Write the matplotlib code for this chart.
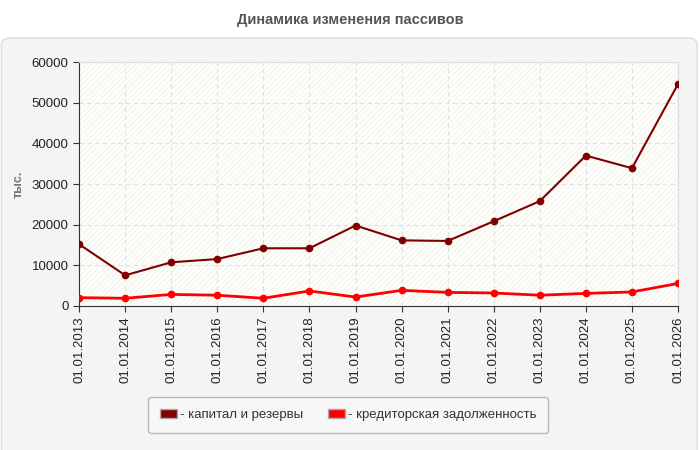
import matplotlib.pyplot as plt
from matplotlib.patches import FancyBboxPatch, Patch

dates = ['01.01.2013', '01.01.2014', '01.01.2015', '01.01.2016', '01.01.2017',
         '01.01.2018', '01.01.2019', '01.01.2020', '01.01.2021', '01.01.2022',
         '01.01.2023', '01.01.2024', '01.01.2025', '01.01.2026']
kapital = [15200, 7550, 10750, 11550, 14200, 14200, 19800, 16150, 16000,
           20850, 25800, 37000, 33900, 54600]
kredit = [2050, 1900, 2850, 2650, 1900, 3700, 2200, 3850, 3350, 3200,
          2650, 3100, 3450, 5550]

plt.rcParams['font.family'] = ['Liberation Sans', 'DejaVu Sans']

fig = plt.figure(figsize=(7, 4.5), dpi=100)
fig.patch.set_facecolor('white')

# grey rounded panel behind the chart
panel = FancyBboxPatch((0.002, -0.05), 0.994, 0.966,
                       boxstyle='round,pad=0,rounding_size=0.015',
                       transform=fig.transFigure, facecolor='#f4f4f4',
                       edgecolor='#dddddd', linewidth=1, zorder=-10)
fig.patches.append(panel)

fig.text(0.5, 0.955, 'Динамика изменения пассивов', ha='center', va='center',
         fontsize=10.5, fontweight='bold', color='#555555')

ax = fig.add_axes([0.113, 0.32, 0.8556, 0.542])
ax.set_facecolor('#fefefa')
ax.patch.set_hatch('//////')
ax.patch.set_edgecolor('#f4f4f0')
ax.patch.set_linewidth(0)

x = list(range(len(dates)))
ax.plot(x, kapital, color='#800000', lw=1.5, marker='o', ms=4.5, zorder=3)
ax.plot(x, kredit, color='#ff0000', lw=2, marker='o', ms=4.5, zorder=3)

ax.set_xlim(0, len(dates) - 1)
ax.set_ylim(0, 60000)
ax.set_yticks(range(0, 60001, 10000))
ax.set_xticks(x)
ax.set_xticklabels(dates, rotation=90, fontsize=9.5, color='#222222')
ax.tick_params(axis='y', labelsize=9.5, labelcolor='#222222', length=4, color='#333333')
ax.tick_params(axis='x', length=4, color='#333333')

ax.grid(True, linestyle=(0, (4, 3)), color='#e0e0e0', linewidth=0.8)
ax.set_axisbelow(True)

for s in ['top', 'right']:
    ax.spines[s].set_color('#dddddd')
for s in ['left', 'bottom']:
    ax.spines[s].set_color('#333333')

fig.text(0.026, 0.59, 'тыс.', rotation=90, ha='center', va='center',
         fontsize=9, fontweight='bold', color='#777777')

handles = [Patch(facecolor='#800000', edgecolor='#aaaaaa', label='- капитал и резервы'),
           Patch(facecolor='#ff0000', edgecolor='#aaaaaa', label='- кредиторская задолженность')]
leg = fig.legend(handles=handles, loc='center', bbox_to_anchor=(0.497, 0.078),
                 ncol=2, frameon=True, fontsize=9.5, handlelength=1.3,
                 handleheight=0.7, handletextpad=0.2, columnspacing=1.9,
                 borderpad=0.9, borderaxespad=0, fancybox=True)
leg.get_frame().set_edgecolor('#aaaaaa')
leg.get_frame().set_facecolor('#f8f8f8')
for t in leg.get_texts():
    t.set_color('#333333')

fig.savefig('out.png', dpi=100)
